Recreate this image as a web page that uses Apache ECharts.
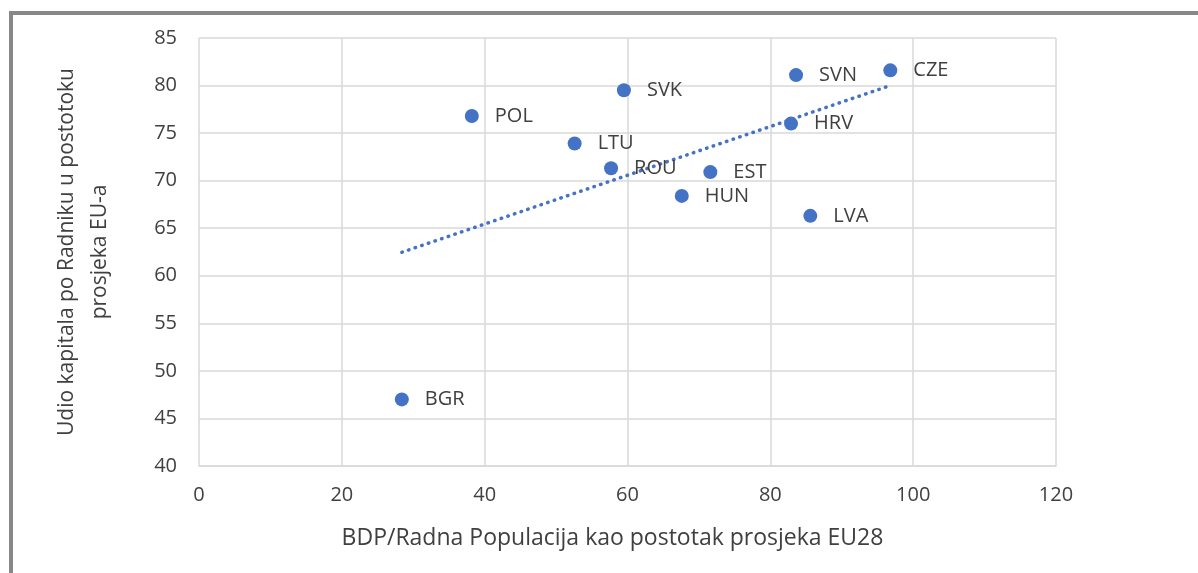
<!DOCTYPE html>
<html>
<head>
<meta charset="utf-8">
<script src="https://cdn.jsdelivr.net/npm/echarts@6/dist/echarts.min.js"></script>
<style>
  html, body { margin: 0; padding: 0; background: #fff; }
  #frame {
    position: absolute; left: 9px; top: 11px; width: 1189px; height: 562px;
    border-left: 4px solid #888; border-top: 4px solid #888;
  }
  #main { position: absolute; left: 0; top: 0; width: 1198px; height: 573px; }
</style>
</head>
<body>
<div id="frame"></div>
<div id="main"></div>
<script>
// country codes and values
const countries = ['BGR', 'POL', 'LTU', 'ROU', 'SVK', 'HUN', 'EST', 'HRV', 'SVN', 'LVA', 'CZE'];
const gdpPerWorker = [28.4, 38.2, 52.6, 57.7, 59.5, 67.6, 71.6, 82.9, 83.6, 85.6, 96.8];
const capitalShare = [47.0, 76.8, 73.9, 71.3, 79.5, 68.4, 70.9, 76.0, 81.1, 66.3, 81.6];

const textColor = '#404040';
const gridColor = '#d9d9d9';
const dotColor = '#4472c4';
const font = 'Open Sans';

// linear trendline (least squares) over the data, like Excel does
function trend(xs, ys) {
    let n = xs.length;
    let mx = xs.reduce((a, b) => a + b, 0) / n;
    let my = ys.reduce((a, b) => a + b, 0) / n;
    let sxy = 0, sxx = 0;
    for (let i = 0; i < n; i++) {
        sxy += (xs[i] - mx) * (ys[i] - my);
        sxx += (xs[i] - mx) * (xs[i] - mx);
    }
    let k = sxy / sxx;
    let x0 = Math.min(...xs), x1 = Math.max(...xs);
    return [[x0, my + k * (x0 - mx)], [x1, my + k * (x1 - mx)]];
}

const points = countries.map((c, i) => ({ name: c, value: [gdpPerWorker[i], capitalShare[i]] }));

const option = {
    animation: false,
    grid: { left: 199, right: 142, top: 38, bottom: 107 },
    xAxis: {
        type: 'value',
        min: 0, max: 120, interval: 20,
        name: 'BDP/Radna Populacija kao postotak prosjeka EU28',
        nameLocation: 'middle',
        nameGap: 61,
        nameTextStyle: { color: textColor, fontSize: 23, fontFamily: font, padding: [0, 30, 0, 0] },
        axisLine: { lineStyle: { color: gridColor, width: 1.5 } },
        axisTick: { show: false },
        axisLabel: { color: textColor, fontSize: 20, fontFamily: font, margin: 19 },
        splitLine: { lineStyle: { color: gridColor, width: 1.5 } }
    },
    yAxis: {
        type: 'value',
        min: 40, max: 85, interval: 5,
        name: 'Udio kapitala po Radniku u postotoku\nprosjeka EU-a',
        nameLocation: 'middle',
        nameGap: 82,
        nameTextStyle: { color: textColor, fontSize: 21, fontFamily: font, lineHeight: 33 },
        axisLine: { show: false },
        axisTick: { show: false },
        axisLabel: { color: textColor, fontSize: 20, fontFamily: font, margin: 22 },
        splitLine: { lineStyle: { color: gridColor, width: 1.5 } }
    },
    series: [
        {
            type: 'line',
            data: trend(gdpPerWorker, capitalShare),
            symbol: 'none',
            lineStyle: { color: dotColor, width: 3.5, type: [0.5, 6.5], cap: 'round' },
            z: 1
        },
        {
            type: 'scatter',
            data: points,
            symbolSize: 14,
            itemStyle: { color: dotColor, opacity: 1 },
            label: {
                show: true,
                position: 'right',
                distance: 16,
                formatter: p => p.name,
                color: textColor,
                fontSize: 20,
                fontFamily: font
            },
            z: 2
        }
    ]
};

let plot = echarts.init(document.querySelector('#main'));
plot.setOption(option);
</script>
</body>
</html>
